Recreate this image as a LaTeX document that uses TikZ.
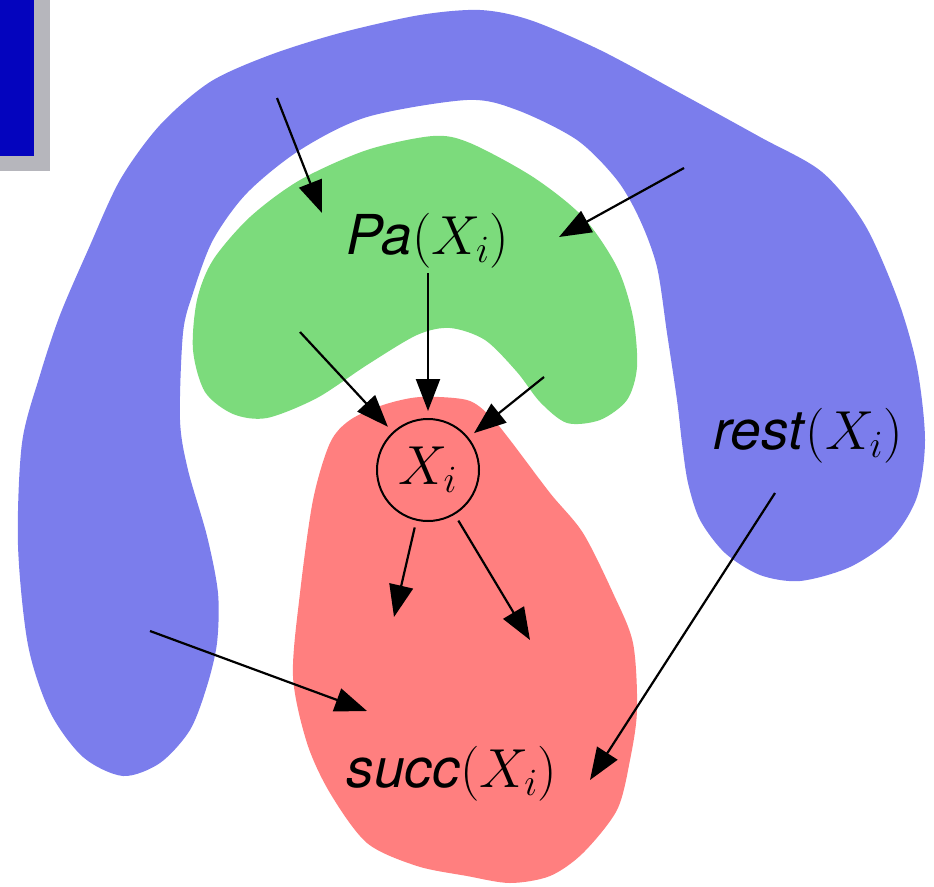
\documentclass[tikz,border=0pt]{standalone}
\usepackage{fix-cm}
\usepackage{fontspec}
\setsansfont{TeX Gyre Heros}
\usetikzlibrary{arrows.meta}
\definecolor{rblue}{HTML}{7B7DEC}
\definecolor{rgreen}{HTML}{7CDB7C}
\definecolor{rred}{HTML}{FF7F7F}
\definecolor{dblue}{HTML}{0404BE}
\definecolor{sgray}{HTML}{B6B6BC}
\begin{document}
\begin{tikzpicture}[x=1pt,y=-1pt,
  arr/.style={line width=2.2pt,-{Triangle[length=32pt,width=24pt]}},
  bigfont/.style={font=\fontsize{55}{62}\selectfont},
  lbl/.style={bigfont, inner sep=0pt, anchor=base}]
\useasboundingbox (0,0) rectangle (934,886);
% corner box
\fill[sgray] (0,0) rectangle (50,171);
\fill[dblue] (0,0) rectangle (34,156);
% blue horseshoe
\fill[rblue] plot[smooth cycle] coordinates {
 (123,776) (83,757) (50,712) (28,645) (18,545) (22,443) (40,375) (60,315)
 (88,250) (120,180) (160,125) (210,82) (270,55) (340,33) (420,15) (480,10)
 (530,20) (600,50) (680,93) (760,137) (822,172) (865,225) (898,300)
 (917,367) (925,440) (917,497) (892,538) (850,567) (800,581) (760,575)
 (725,553) (700,520) (688,483) (682,443) (677,400) (667,333) (657,267)
 (640,220) (617,180) (577,140) (517,110) (467,100) (367,117) (300,150)
 (247,193) (213,240) (193,293) (183,333) (180,420) (188,470) (207,536)
 (218,593) (217,643) (207,686) (190,730) (160,763)};
% green parents
\fill[rgreen] plot[smooth cycle] coordinates {
 (433,136) (470,143) (533,177) (583,217) (617,267) (633,317) (637,367)
 (627,400) (600,420) (567,423) (540,402) (517,372) (485,340) (450,328)
 (417,335) (367,365) (317,398) (267,418) (233,414) (205,392) (193,350)
 (197,300) (213,260) (250,217) (300,180) (367,150)};
% red successors
\fill[rred] plot[smooth cycle] coordinates {
 (350,420) (383,405) (420,397) (467,400) (490,416) (510,440) (550,493)
 (583,533) (613,593) (633,643) (637,710) (630,760) (617,810) (583,853)
 (550,876) (510,883) (467,876) (417,866) (367,843) (330,793) (307,743)
 (293,676) (300,593) (313,500) (330,443)};
% node X_i
\node[circle, draw, line width=2pt, minimum size=102pt, inner sep=0pt,
      outer sep=8pt, bigfont] (xi) at (428,470) {$X_i$};
% labels
\node[lbl] (pa) at (428,254) {\textsf{\itshape Pa}$(X_i)$};
\node[lbl] (rest) at (808,449) {\textsf{\itshape rest}$(X_i)$};
\node[lbl] (succ) at (452,787) {\textsf{\itshape succ}$(X_i)$};
% arrow end points
\coordinate (a1s) at (277,98);  \coordinate (a1e) at (322,213);
\coordinate (a2s) at (684,168); \coordinate (a2e) at (559,237);
\coordinate (a3s) at (300,332);
\coordinate (a4s) at (428,273);
\coordinate (a5s) at (544,377);
\coordinate (a6e) at (394,617);
\coordinate (a7e) at (530,640);
\coordinate (a8s) at (150,631); \coordinate (a8e) at (367,711);
\coordinate (a9s) at (775,493); \coordinate (a9e) at (590,780);
% arrows
\draw[arr] (a1s) -- (a1e);
\draw[arr] (a2s) -- (a2e);
\draw[arr] (a3s) -- (xi);
\draw[arr] (a4s) -- (xi);
\draw[arr] (a5s) -- (xi);
\draw[arr] (xi) -- (a6e);
\draw[arr] (xi) -- (a7e);
\draw[arr] (a8s) -- (a8e);
\draw[arr] (a9s) -- (a9e);
\end{tikzpicture}
\end{document}
